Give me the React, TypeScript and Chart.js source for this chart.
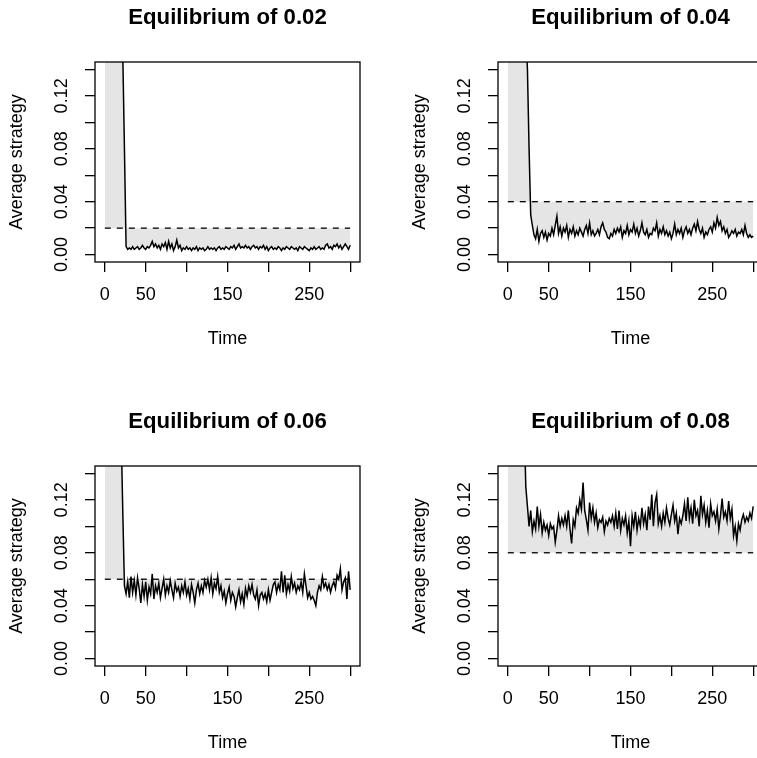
import React, { useEffect, useRef } from "react";
import { Chart, registerables } from "chart.js";

Chart.register(...registerables);

const FONT = '"Liberation Sans", Arial, Helvetica, sans-serif';

// Time index: one sample every 2 time units, 0..300
const TIMES: number[] = Array.from({ length: 151 }, (_, i) => i * 2);

const TITLES = ["Equilibrium of 0.02", "Equilibrium of 0.04", "Equilibrium of 0.06", "Equilibrium of 0.08"];
const EQUILIBRIA = [0.02, 0.04, 0.06, 0.08];

const X_LIMITS = [0, 300];
const Y_LIMITS = [0, 0.14];
const X_TICKS = [0, 50, 100, 150, 200, 250, 300];
const X_TICK_LABELS = ["0", "50", "", "150", "", "250", ""];
const Y_TICKS = [0, 0.02, 0.04, 0.06, 0.08, 0.1, 0.12, 0.14];
const Y_TICK_LABELS = ["0.00", "", "0.04", "", "0.08", "", "0.12", ""];
const X_LABEL = "Time";
const Y_LABEL = "Average strategy";

const SERIES_002 = [
  0.60, 0.58, 0.55, 0.52, 0.48, 0.44, 0.40, 0.35, 0.30, 0.25,
  0.20, 0.15, 0.08, 0.006, 0.004, 0.005, 0.004, 0.006, 0.004, 0.005,
  0.006, 0.004, 0.005, 0.007, 0.005, 0.004, 0.006, 0.005, 0.007, 0.010,
  0.006, 0.008, 0.005, 0.007, 0.004, 0.008, 0.006, 0.009, 0.004, 0.010,
  0.005, 0.008, 0.003, 0.006, 0.011, 0.005, 0.007, 0.003, 0.005, 0.004,
  0.006, 0.004, 0.005, 0.003, 0.005, 0.004, 0.006, 0.003, 0.005, 0.004,
  0.005, 0.003, 0.004, 0.006, 0.004, 0.005, 0.004, 0.005, 0.003, 0.005,
  0.006, 0.004, 0.005, 0.004, 0.006, 0.005, 0.004, 0.006, 0.005, 0.007,
  0.004, 0.006, 0.008, 0.005, 0.006, 0.005, 0.007, 0.005, 0.006, 0.004,
  0.006, 0.007, 0.005, 0.006, 0.004, 0.006, 0.005, 0.007, 0.004, 0.006,
  0.003, 0.005, 0.006, 0.004, 0.005, 0.004, 0.006, 0.005, 0.003, 0.005,
  0.004, 0.006, 0.005, 0.004, 0.006, 0.005, 0.004, 0.005, 0.003, 0.006,
  0.005, 0.004, 0.006, 0.005, 0.004, 0.003, 0.005, 0.004, 0.006, 0.004,
  0.005, 0.006, 0.004, 0.005, 0.004, 0.007, 0.008, 0.005, 0.006, 0.004,
  0.007, 0.006, 0.008, 0.005, 0.007, 0.004, 0.006, 0.008, 0.006, 0.004,
  0.007,
];

const SERIES_004 = [
  0.60, 0.58, 0.55, 0.52, 0.49, 0.45, 0.41, 0.36, 0.31, 0.26,
  0.21, 0.17, 0.14, 0.08, 0.03, 0.022, 0.015, 0.012, 0.019, 0.010,
  0.016, 0.018, 0.013, 0.017, 0.011, 0.016, 0.014, 0.020, 0.015, 0.022,
  0.029, 0.016, 0.021, 0.014, 0.020, 0.017, 0.022, 0.013, 0.019, 0.016,
  0.021, 0.014, 0.018, 0.015, 0.020, 0.017, 0.014, 0.019, 0.022, 0.016,
  0.024, 0.015, 0.018, 0.014, 0.016, 0.019, 0.015, 0.021, 0.024, 0.019,
  0.017, 0.013, 0.012, 0.016, 0.014, 0.019, 0.016, 0.020, 0.017, 0.021,
  0.013, 0.018, 0.016, 0.022, 0.015, 0.019, 0.017, 0.023, 0.016, 0.020,
  0.014, 0.018, 0.024, 0.017, 0.015, 0.019, 0.013, 0.016, 0.015, 0.020,
  0.018, 0.024, 0.014, 0.019, 0.016, 0.021, 0.015, 0.018, 0.014, 0.017,
  0.012, 0.016, 0.023, 0.015, 0.019, 0.016, 0.020, 0.013, 0.018, 0.021,
  0.016, 0.019, 0.015, 0.020, 0.023, 0.018, 0.025, 0.019, 0.016, 0.020,
  0.013, 0.017, 0.015, 0.019, 0.021, 0.017, 0.024, 0.020, 0.028, 0.022,
  0.025, 0.018, 0.021, 0.016, 0.019, 0.013, 0.015, 0.018, 0.016, 0.019,
  0.014, 0.017, 0.016, 0.019, 0.015, 0.022, 0.016, 0.013, 0.015, 0.013,
  0.014,
];

const SERIES_006 = [
  0.60, 0.57, 0.54, 0.50, 0.46, 0.42, 0.37, 0.32, 0.27, 0.22,
  0.17, 0.11, 0.055, 0.049, 0.058, 0.046, 0.062, 0.050, 0.059, 0.048,
  0.061, 0.053, 0.042, 0.056, 0.047, 0.058, 0.044, 0.054, 0.049, 0.064,
  0.045, 0.055, 0.050, 0.057, 0.046, 0.053, 0.060, 0.048, 0.055, 0.050,
  0.059, 0.052, 0.046, 0.057, 0.051, 0.054, 0.047, 0.055, 0.050, 0.058,
  0.048, 0.053, 0.045, 0.056, 0.050, 0.042, 0.052, 0.057, 0.049, 0.055,
  0.050, 0.059, 0.054, 0.060, 0.052, 0.061, 0.049, 0.057, 0.053, 0.062,
  0.050, 0.055, 0.046, 0.051, 0.042, 0.049, 0.054, 0.044, 0.050, 0.047,
  0.039, 0.046, 0.052, 0.043, 0.049, 0.041, 0.053, 0.047, 0.055, 0.050,
  0.056, 0.048, 0.045, 0.052, 0.040, 0.048, 0.050, 0.045, 0.049, 0.043,
  0.052, 0.044, 0.050, 0.056, 0.058, 0.050, 0.056, 0.052, 0.066, 0.050,
  0.063, 0.049, 0.056, 0.051, 0.062, 0.053, 0.057, 0.050, 0.055, 0.052,
  0.058, 0.050, 0.064, 0.055, 0.046, 0.050, 0.045, 0.047, 0.044, 0.040,
  0.050, 0.055, 0.052, 0.062, 0.054, 0.057, 0.052, 0.056, 0.050, 0.055,
  0.058, 0.053, 0.063, 0.060, 0.068, 0.052, 0.058, 0.061, 0.045, 0.066,
  0.052,
];

const SERIES_008 = [
  0.62, 0.60, 0.57, 0.54, 0.50, 0.46, 0.41, 0.36, 0.30, 0.24,
  0.18, 0.13, 0.115, 0.100, 0.112, 0.096, 0.104, 0.098, 0.115, 0.100,
  0.109, 0.095, 0.103, 0.097, 0.101, 0.093, 0.102, 0.098, 0.100, 0.088,
  0.097, 0.108, 0.100, 0.106, 0.101, 0.108, 0.100, 0.112, 0.098, 0.087,
  0.105, 0.100, 0.114, 0.110, 0.120, 0.113, 0.133, 0.112, 0.105, 0.097,
  0.118, 0.106, 0.114, 0.103, 0.110, 0.099, 0.105, 0.103, 0.107, 0.096,
  0.104, 0.101, 0.106, 0.103, 0.108, 0.100, 0.110, 0.098, 0.112, 0.097,
  0.106, 0.101, 0.108, 0.095, 0.104, 0.085, 0.108, 0.100, 0.111, 0.097,
  0.106, 0.100, 0.114, 0.102, 0.109, 0.097, 0.115, 0.105, 0.124, 0.100,
  0.118, 0.124, 0.102, 0.108, 0.100, 0.110, 0.103, 0.114, 0.106, 0.101,
  0.109, 0.116, 0.104, 0.110, 0.094, 0.106, 0.102, 0.108, 0.117, 0.104,
  0.122, 0.106, 0.114, 0.102, 0.120, 0.108, 0.112, 0.100, 0.123, 0.109,
  0.116, 0.103, 0.112, 0.099, 0.117, 0.108, 0.111, 0.104, 0.113, 0.098,
  0.108, 0.121, 0.107, 0.111, 0.104, 0.119, 0.106, 0.113, 0.093, 0.100,
  0.089, 0.102, 0.097, 0.105, 0.109, 0.103, 0.107, 0.104, 0.110, 0.106,
  0.115,
];

const SERIES = [SERIES_002, SERIES_004, SERIES_006, SERIES_008];

const PANEL_W = 403;
const PANEL_H = 404;

const boxPlugin = {
  id: "plotBox",
  afterDraw(chart: any) {
    const { ctx, chartArea } = chart;
    const { left, top, right, bottom } = chartArea;
    ctx.save();
    ctx.strokeStyle = "#000";
    ctx.lineWidth = 1.3;
    ctx.strokeRect(left, top, right - left, bottom - top);
    ctx.restore();
  },
};

function Panel({ index, left, top }: { index: number; left: number; top: number }) {
  const ref = useRef<HTMLCanvasElement>(null);

  useEffect(() => {
    if (!ref.current) return;
    const eq = EQUILIBRIA[index];
    const values = SERIES[index];
    const xPad = (X_LIMITS[1] - X_LIMITS[0]) * 0.04;
    const yPad = (Y_LIMITS[1] - Y_LIMITS[0]) * 0.04;

    const chart = new Chart(ref.current, {
      type: "line",
      data: {
        datasets: [
          {
            data: values.map((v, i) => ({ x: TIMES[i], y: v })),
            borderColor: "#000",
            borderWidth: 1.5,
            pointRadius: 0,
            tension: 0,
            fill: { value: eq },
            backgroundColor: "#e5e5e5",
          },
          {
            data: [
              { x: X_LIMITS[0], y: eq },
              { x: X_LIMITS[1], y: eq },
            ],
            borderColor: "#000",
            borderWidth: 1.3,
            borderDash: [6, 6],
            pointRadius: 0,
            fill: false,
          },
        ],
      },
      options: {
        responsive: false,
        animation: false,
        devicePixelRatio: 1,
        layout: { padding: { left: 0, top: 0, right: 43, bottom: 0 } },
        plugins: {
          legend: { display: false },
          tooltip: { enabled: false },
          filler: { drawTime: "beforeDatasetsDraw", propagate: false },
          title: {
            display: true,
            text: TITLES[index],
            fullSize: false,
            color: "#000",
            font: { family: FONT, size: 22.2, weight: "bold", lineHeight: 1.2 },
            padding: { top: 5.0, bottom: 30.36 },
          },
        },
        scales: {
          x: {
            type: "linear",
            position: "bottom",
            min: X_LIMITS[0] - xPad,
            max: X_LIMITS[1] + xPad,
            afterBuildTicks: (s: any) => {
              s.ticks = X_TICKS.map((v) => ({ value: v }));
            },
            afterFit: (s: any) => {
              s.height = 142;
            },
            grid: { drawOnChartArea: false, drawTicks: true, tickLength: 10, color: "#000", lineWidth: 1.3 },
            border: { display: false },
            ticks: {
              autoSkip: false,
              maxRotation: 0,
              minRotation: 0,
              padding: 12,
              color: "#000",
              font: { family: FONT, size: 18 },
              callback: (_v: any, i: number) => X_TICK_LABELS[i],
            },
            title: {
              display: true,
              text: X_LABEL,
              color: "#000",
              font: { family: FONT, size: 18, lineHeight: 1.2 },
              padding: { top: 0, bottom: 53.7 },
            },
          },
          y: {
            type: "linear",
            position: "left",
            min: Y_LIMITS[0] - yPad,
            max: Y_LIMITS[1] + yPad,
            afterBuildTicks: (s: any) => {
              s.ticks = Y_TICKS.map((v) => ({ value: v }));
            },
            afterFit: (s: any) => {
              s.width = 95;
            },
            grid: { drawOnChartArea: false, drawTicks: true, tickLength: 10, color: "#000", lineWidth: 1.3 },
            border: { display: false },
            ticks: {
              autoSkip: false,
              minRotation: 90,
              maxRotation: 90,
              crossAlign: "center",
              padding: 5.5,
              color: "#000",
              font: { family: FONT, size: 18 },
              callback: (_v: any, i: number) => Y_TICK_LABELS[i],
            },
            title: {
              display: true,
              text: Y_LABEL,
              color: "#000",
              font: { family: FONT, size: 18, lineHeight: 1.2 },
              padding: { top: 6.5, bottom: 0 },
            },
          },
        },
      } as any,
      plugins: [boxPlugin],
    });
    return () => chart.destroy();
  }, [index]);

  return (
    <canvas
      ref={ref}
      width={PANEL_W}
      height={PANEL_H}
      style={{ position: "absolute", left, top, width: PANEL_W, height: PANEL_H }}
    />
  );
}

export default function App() {
  return (
    <div
      style={{
        position: "fixed",
        left: 0,
        top: 0,
        width: 757,
        height: 758,
        overflow: "hidden",
        background: "#fff",
      }}
    >
      {[0, 1, 2, 3].map((i) => (
        <Panel key={i} index={i} left={(i % 2) * PANEL_W} top={Math.floor(i / 2) * PANEL_H} />
      ))}
    </div>
  );
}
